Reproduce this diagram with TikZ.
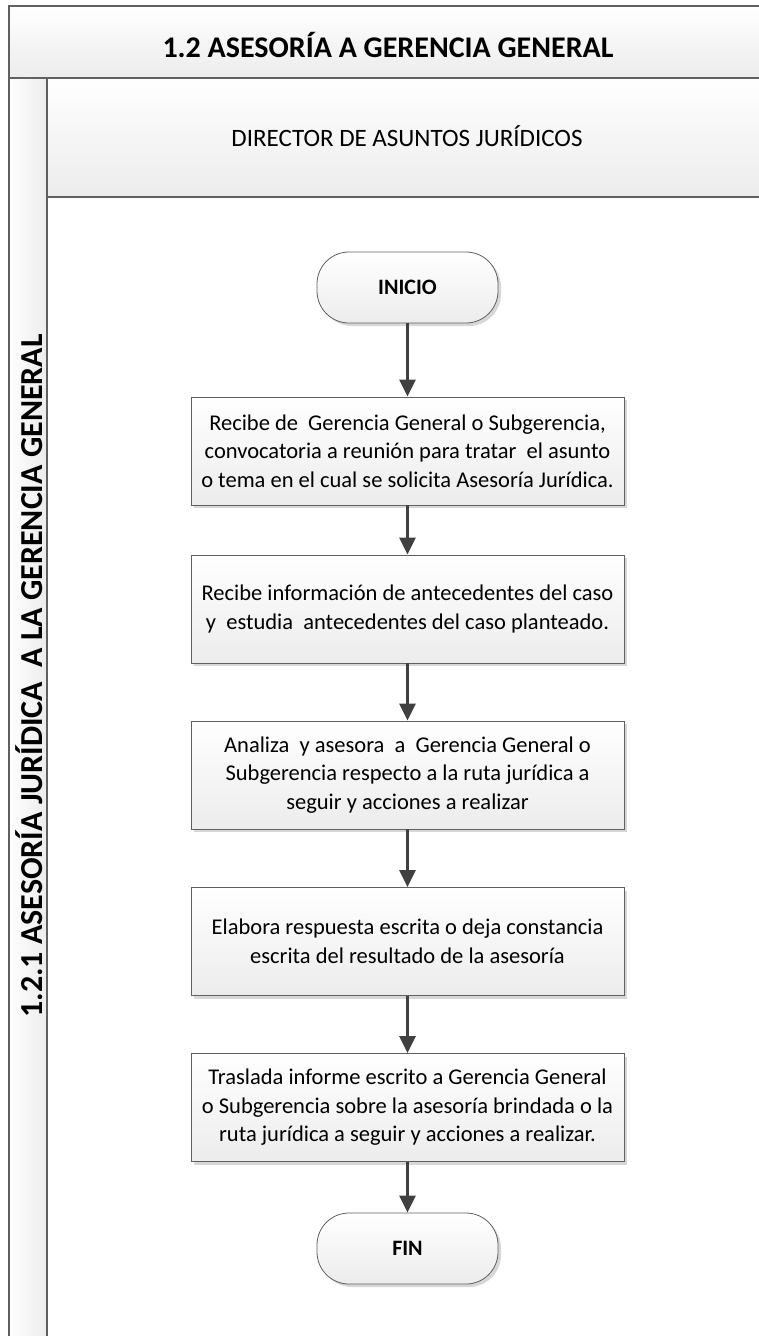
\documentclass[tikz,border=0pt]{standalone}
\usepackage{fontspec}
\setmainfont{Carlito}
\usepackage{xcolor}
\usepackage{tikz}
\usetikzlibrary{positioning,calc,shadows,arrows.meta}
\definecolor{flowline}{RGB}{64,64,64}
\definecolor{flowborder}{RGB}{96,96,96}
\definecolor{flowfill}{RGB}{236,236,236}
\definecolor{flowshadow}{RGB}{215,215,215}
\tikzset{
    flow band/.style={
        rectangle,
        draw=flowborder,
        line width=1.5pt,
        top color=white,
        bottom color=flowfill,
    },
    flow step/.style={
        rectangle,
        minimum width=433pt,
        minimum height=108pt,
        draw=flowborder,
        line width=0.8pt,
        top color=white,
        bottom color=flowfill,
        inner sep=0pt,
        align=center,
        font=\fontsize{22.5}{28.5}\selectfont,
        drop shadow={shadow xshift=3pt,shadow yshift=-3pt,fill=flowshadow,opacity=1},
    },
    flow terminal/.style={
        rectangle,
        minimum width=181pt,
        minimum height=71pt,
        rounded corners=32pt,
        draw=flowborder,
        line width=0.8pt,
        top color=white,
        bottom color=flowfill,
        inner sep=0pt,
        font=\fontsize{22}{26}\selectfont\bfseries,
        drop shadow={shadow xshift=3pt,shadow yshift=-3pt,fill=flowshadow,opacity=1},
    },
    flow arrow/.style={
        draw=flowline,
        line width=2.5pt,
        -{Triangle[length=17pt,width=16pt]},
    },
}

\begin{document}
\begin{tikzpicture}[x=1pt,y=-1pt]
    \useasboundingbox (0,0) rectangle (759,1336);

    %Pool frame, lane header and vertical lane strip
    \path[flow band] (9,6) rectangle (768,78);
    \path[flow band] (47,78) rectangle (768,197);
    \path[flow band,left color=white,right color=flowfill] (9,78) rectangle (47,1345);
    \draw[flowborder,line width=1.5pt] (47,197) -- (47,1345);

    \node (title) at (388,45) {\fontsize{30}{36}\selectfont\bfseries 1.2 ASESORÍA A GERENCIA GENERAL};
    \node (lane) at (407,136) {\fontsize{25}{30}\selectfont DIRECTOR DE ASUNTOS JURÍDICOS};
    \node[rotate=90] (strip) at (29,676) {\fontsize{32}{38}\selectfont\bfseries 1.2.1 ASESORÍA JURÍDICA\ \ A LA GERENCIA GENERAL};

    %Flow of the lane
    \node[flow terminal] (inicio) at (407.5,287.5) {INICIO};
    \node[flow step] (recibe) at (407.5,451) {Recibe de\ \ Gerencia General o Subgerencia,\\convocatoria a reunión para tratar\ \ el asunto\\o tema en el cual se solicita Asesoría Jurídica.};
    \node[flow step] (estudia) at (407.5,609) {Recibe información de antecedentes del caso\\y\ \ estudia\ \ antecedentes del caso planteado.};
    \node[flow step] (analiza) at (407.5,775) {Analiza\ \ y asesora\ \ a\ \ Gerencia General o\\Subgerencia respecto a la ruta jurídica a\\seguir y acciones a realizar};
    \node[flow step] (elabora) at (407.5,941.5) {Elabora respuesta escrita o deja constancia\\escrita del resultado de la asesoría};
    \node[flow step] (traslada) at (407.5,1107.5) {Traslada informe escrito a Gerencia General\\o Subgerencia sobre la asesoría brindada o la\\ruta jurídica a seguir y acciones a realizar.};
    \node[flow terminal] (fin) at (407.5,1248.5) {FIN};

    \draw[flow arrow] (inicio) -- (recibe);
    \draw[flow arrow] (recibe) -- (estudia);
    \draw[flow arrow] (estudia) -- (analiza);
    \draw[flow arrow] (analiza) -- (elabora);
    \draw[flow arrow] (elabora) -- (traslada);
    \draw[flow arrow] (traslada) -- (fin);
\end{tikzpicture}
\end{document}
